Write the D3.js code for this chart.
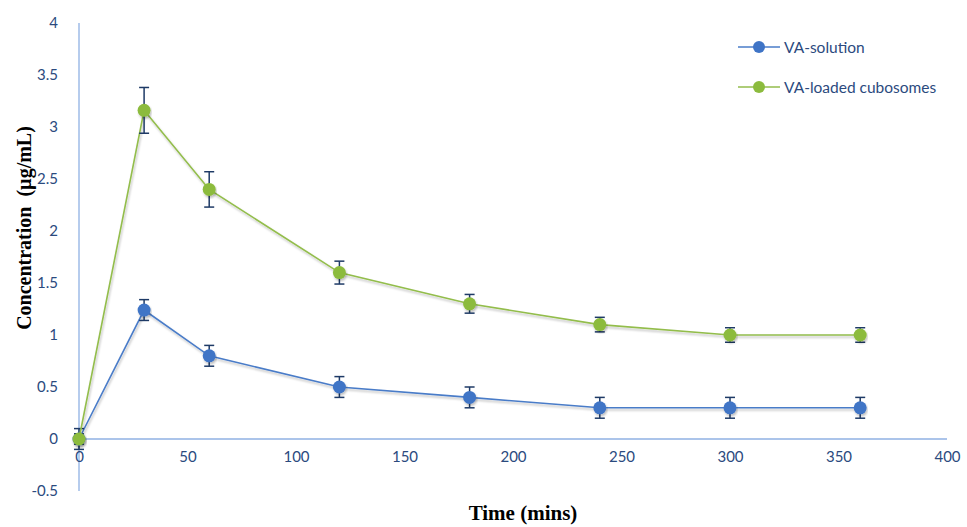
<!DOCTYPE html>
<html>
<head>
<meta charset="utf-8">
<script src="https://cdn.jsdelivr.net/npm/d3@7"></script>
<style>
body{margin:0;background:#fff;}
.tick text{font-family:Lato,"Open Sans",sans-serif;font-size:15px;fill:#2b4a7e;}
.axtitle{font-family:"Liberation Serif","Times New Roman",serif;font-weight:bold;fill:#000;}
.leg{font-family:Lato,"Open Sans",sans-serif;font-size:15.5px;fill:#2b4a7e;}
</style>
</head>
<body>
<svg></svg>
<script>
// values
var times=[0,30,60,120,180,240,300,360];
var solution=[0,1.24,0.8,0.5,0.4,0.3,0.3,0.3];
var solutionErr=[0.1,0.1,0.1,0.1,0.1,0.1,0.1,0.1];
var cubosomes=[0,3.16,2.4,1.6,1.3,1.1,1.0,1.0];
var cubosomesErr=[0.05,0.22,0.17,0.11,0.09,0.07,0.07,0.07];
var xTicks=[0,50,100,150,200,250,300,350,400];
var yTicks=[-0.5,0,0.5,1,1.5,2,2.5,3,3.5,4];
var seriesNames=["VA-solution","VA-loaded cubosomes"];
var seriesColors=["#3f74c6","#8cbb3e"];
var lineColors=["#4a7cc8","#93bd4c"];

var width=967,height=527;
var svg=d3.select("svg").attr("width",width).attr("height",height);

var x=d3.scaleLinear().domain([0,400]).range([79,947]);
var y=d3.scaleLinear().domain([-0.5,4]).range([491,23]);

var defs=svg.append("defs");
var f=defs.append("filter").attr("id","shadow").attr("x","-10%").attr("y","-10%").attr("width","120%").attr("height","130%");
f.append("feDropShadow").attr("dx",1).attr("dy",2).attr("stdDeviation",1.2).attr("flood-color","#000").attr("flood-opacity",0.25);

// axes lines (y axis at x=0, x axis at y=0)
svg.append("line").attr("x1",x(0)).attr("x2",x(0)).attr("y1",y(4)).attr("y2",y(-0.5))
	.attr("stroke","#8fb1e3").attr("stroke-width",1.3);
svg.append("line").attr("x1",x(0)).attr("x2",x(400)).attr("y1",y(0)).attr("y2",y(0))
	.attr("stroke","#8fb1e3").attr("stroke-width",1.3);

var xAxis=svg.append("g").attr("transform","translate(0,"+(y(0)+6)+")")
	.call(d3.axisBottom(x).tickValues(xTicks).tickSize(0).tickPadding(6).tickFormat(d3.format("d")));
xAxis.select(".domain").remove();

var yAxis=svg.append("g").attr("transform","translate(58,0)")
	.call(d3.axisLeft(y).tickValues(yTicks).tickSize(0).tickPadding(0).tickFormat(function(d){return String(d);}));
yAxis.select(".domain").remove();

svg.append("text").attr("class","axtitle")
	.attr("transform","translate(31,228) rotate(-90)")
	.attr("text-anchor","middle")
	.attr("xml:space","preserve")
	.style("font-size","20px")
	.text("Concentration  (\u00b5g/mL)");
svg.append("text").attr("class","axtitle")
	.attr("x",523).attr("y",520)
	.attr("text-anchor","middle")
	.style("font-size","21px")
	.text("Time (mins)");

var series=[
	{vals:solution,err:solutionErr},
	{vals:cubosomes,err:cubosomesErr}
];

var line=d3.line().x(function(d){return x(d[0]);}).y(function(d){return y(d[1]);});

series.forEach(function(s,si){
	var pts=times.map(function(t,i){return [t,s.vals[i],s.err[i]];});
	var g=svg.append("g");
	g.append("path").datum(pts).attr("d",line)
		.attr("fill","none").attr("stroke",lineColors[si]).attr("stroke-width",1.6)
		.attr("filter","url(#shadow)");
	// error bars
	var eb=g.selectAll(".eb").data(pts).enter().append("g").attr("stroke","#1e3a66").attr("stroke-width",1.5);
	eb.append("line").attr("x1",function(d){return x(d[0]);}).attr("x2",function(d){return x(d[0]);})
		.attr("y1",function(d){return y(d[1]+d[2]);}).attr("y2",function(d){return y(d[1]-d[2]);});
	eb.append("line").attr("x1",function(d){return x(d[0])-5;}).attr("x2",function(d){return x(d[0])+5;})
		.attr("y1",function(d){return y(d[1]+d[2]);}).attr("y2",function(d){return y(d[1]+d[2]);});
	eb.append("line").attr("x1",function(d){return x(d[0])-5;}).attr("x2",function(d){return x(d[0])+5;})
		.attr("y1",function(d){return y(d[1]-d[2]);}).attr("y2",function(d){return y(d[1]-d[2]);});
	g.selectAll(".dot").data(pts).enter().append("circle")
		.attr("cx",function(d){return x(d[0]);}).attr("cy",function(d){return y(d[1]);})
		.attr("r",6.5).attr("fill",seriesColors[si]).attr("filter","url(#shadow)");
});

// legend
var leg=svg.selectAll(".legitem").data(seriesNames).enter().append("g")
	.attr("transform",function(d,i){return "translate(738,"+(47+i*40)+")";});
leg.append("line").attr("x1",0).attr("x2",42).attr("stroke",function(d,i){return lineColors[i];}).attr("stroke-width",1.6);
leg.append("circle").attr("cx",21).attr("r",6).attr("fill",function(d,i){return seriesColors[i];});
leg.append("text").attr("class","leg").attr("x",46).attr("y",5.5).text(function(d){return d;});
</script>
</body>
</html>
